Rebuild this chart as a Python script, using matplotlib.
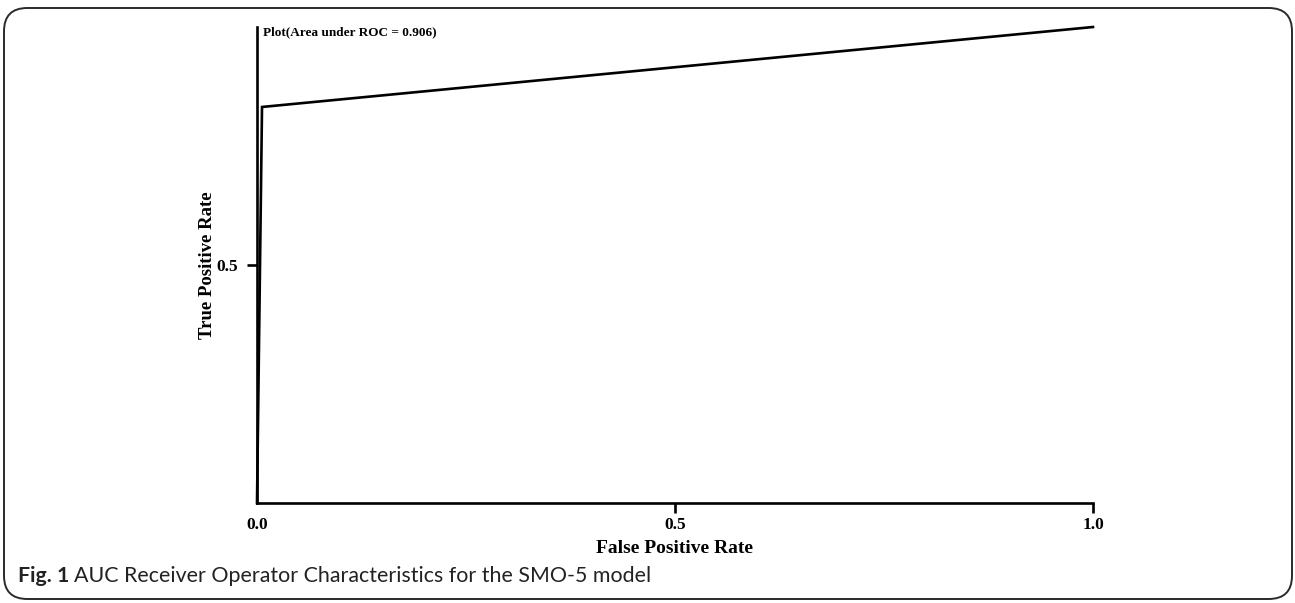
import numpy as np
import matplotlib.pyplot as plt
from matplotlib.patches import FancyBboxPatch

# ROC points
fpr = [0.0, 0.006, 1.0]
tpr = [0.0, 0.832, 1.0]
auc_text = "Plot(Area under ROC = 0.906)"
xticks = [0.0, 0.5, 1.0]
xtick_labels = ["0.0", "0.5", "1.0"]
yticks = [0.5]
ytick_labels = ["0.5"]

serif = "Liberation Serif"

fig = plt.figure(figsize=(12.95, 6.03), dpi=100)
ax = fig.add_axes([257 / 1295, 1 - 503 / 603, (1093 - 257) / 1295, (503 - 27) / 603])

ax.plot(fpr, tpr, color="black", lw=1.9, solid_joinstyle="miter", clip_on=False)
ax.set_xlim(0, 1)
ax.set_ylim(0, 1)

for s in ["top", "right"]:
    ax.spines[s].set_visible(False)
for s in ["left", "bottom"]:
    ax.spines[s].set_linewidth(1.9)

ax.set_xticks(xticks)
ax.set_xticklabels(xtick_labels, fontfamily=serif, fontweight="bold", fontsize=12.5)
ax.set_yticks(yticks)
ax.set_yticklabels(ytick_labels, fontfamily=serif, fontweight="bold", fontsize=12.5)
ax.tick_params(axis="both", length=7, width=1.9, pad=3)
ax.tick_params(axis="y", pad=7)
ax.xaxis.get_major_ticks()[0].tick1line.set_visible(False)

ax.set_xlabel("False Positive Rate", fontfamily=serif, fontweight="bold", fontsize=14, labelpad=5)
ax.set_ylabel("True Positive Rate", fontfamily=serif, fontweight="bold", fontsize=13.5, labelpad=0)

ax.text(0.007, 0.988, auc_text, transform=ax.transAxes, fontfamily=serif,
        fontweight="bold", fontsize=9.5, ha="left", va="center")

# rounded frame around the figure panel
frame = FancyBboxPatch((4 / 1295, 1 - 599 / 603), (1292 - 4) / 1295, (599 - 8) / 603,
                       boxstyle="round,pad=0,rounding_size=0.018",
                       transform=fig.transFigure, fill=False, edgecolor="#2a2a2a",
                       lw=1.4, mutation_aspect=1295 / 603)
fig.patches.append(frame)

# caption
cap_y = 1 - 576 / 603
t1 = fig.text(18 / 1295, cap_y, "Fig. 1", fontfamily="Lato", fontweight="bold",
              fontsize=15.4, va="center", ha="left", color="#222222")
r = fig.canvas.get_renderer()
bb = t1.get_window_extent(renderer=r)
x2 = (bb.x1 + 5) / fig.bbox.width
fig.text(x2, cap_y, "AUC Receiver Operator Characteristics for the SMO-5 model",
         fontfamily="Lato", fontsize=15.4, va="center", ha="left", color="#222222")

fig.savefig("out.png", dpi=100)
